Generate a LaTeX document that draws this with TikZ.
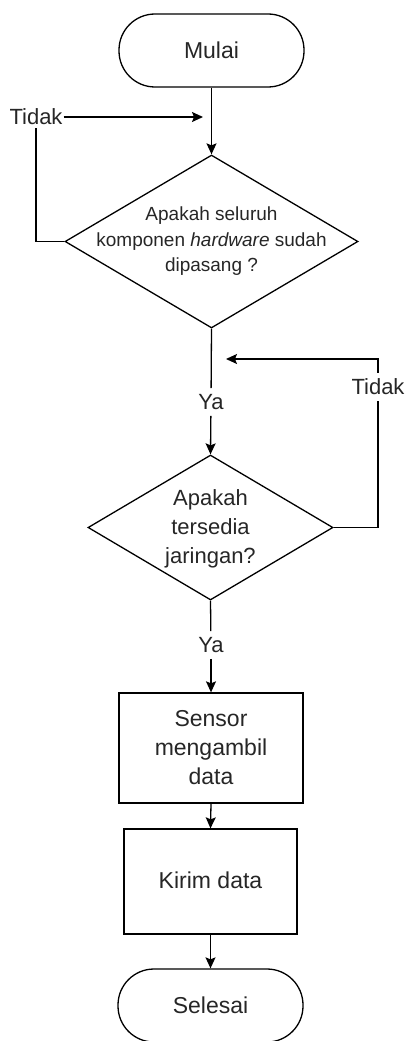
\documentclass[tikz,border=0pt]{standalone}
\usepackage{fontspec}
\setmainfont{Liberation Sans}
\usetikzlibrary{shapes.geometric,arrows.meta}
\begin{document}
\begin{tikzpicture}[
  x=1pt, y=-1pt,
  every node/.style={text=black!85},
  terminal/.style={draw=black, rectangle, rounded corners=36pt, line width=1.3pt,
    minimum width=185pt, minimum height=73pt, inner sep=0pt,
    font=\fontsize{23}{28}\selectfont},
  decision/.style={draw=black, diamond, line width=1.3pt, inner sep=0pt},
  process/.style={draw=black, rectangle, line width=1.3pt, inner sep=0pt,
    align=center, font=\fontsize{23}{29}\selectfont},
  dtext/.style={align=center, inner sep=0pt},
  lbl/.style={fill=white, inner xsep=1pt, inner ysep=6pt,
    font=\fontsize{22}{26}\selectfont},
  link/.style={draw=black, line width=1.3pt},
  flow/.style={link, -{Stealth[length=11pt, width=10pt, inset=2pt]}}
]
\useasboundingbox (0,0) rectangle (408,1041);

% start / end terminals
\node[terminal] (start) at (211.5,50.5) {Mulai};
\node[terminal] (stop) at (210.5,1005.5) {Selesai};

% first decision
\node[decision, minimum width=293pt, minimum height=173pt] (d1) at (211.5,241.5) {};
\node[dtext, font=\fontsize{19}{25.5}\selectfont] (d1t) at (211.5,241.5)
  {Apakah seluruh\\komponen \textit{hardware} sudah\\dipasang ?};

% second decision
\node[decision, minimum width=245pt, minimum height=145pt] (d2) at (210.5,527.5) {};
\node[dtext, font=\fontsize{22}{29}\selectfont] (d2t) at (210.5,529)
  {Apakah\\tersedia\\jaringan?};

% processes
\node[process, minimum width=184pt, minimum height=110pt] (p1) at (211,748)
  {Sensor\\mengambil\\data};
\node[process, minimum width=173pt, minimum height=105pt] (p2) at (210.5,881.5)
  {\raisebox{2pt}{Kirim data}};

% branch labels
\node[lbl, inner ysep=3pt, fill=none] (no1) at (36,117) {Tidak};
\node[lbl] (no2) at (378,387) {Tidak};
\node[lbl] (yes1) at (211,402) {Ya};
\node[lbl] (yes2) at (211,645) {Ya};

% loop-back targets on the main line
\coordinate (in1) at (203,117);
\coordinate (in2) at (226,359);

% connectors
\draw[flow] (start.south) -- (d1.north);
\draw[link] (d1.west) -| (no1.south);
\draw[flow] (no1.east) -- (in1);
\draw[link] (d1.south) -- (yes1);
\draw[flow] (yes1) -- (d2.north);
\draw[link] (d2.east) -| (no2.south);
\draw[flow] (no2.north) |- (in2);
\draw[link] (d2.south) -- (yes2);
\draw[flow] (yes2) -- (p1.north);
\draw[flow] (p1.south) -- (p2.north);
\draw[flow] (p2.south) -- (stop.north);
\end{tikzpicture}
\end{document}
